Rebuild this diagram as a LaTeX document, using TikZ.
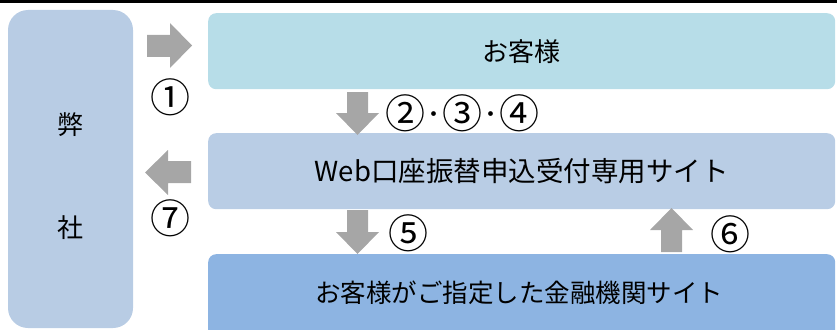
\documentclass[tikz,border=0pt]{standalone}
\usepackage{fontspec}
\setmainfont{Noto Sans CJK JP}
\definecolor{leftc}{HTML}{B8CCE4}
\definecolor{topc}{HTML}{B7DDE8}
\definecolor{midc}{HTML}{B9CDE5}
\definecolor{botc}{HTML}{8DB4E2}
\definecolor{arrc}{HTML}{A6A6A6}
\newcommand{\cnum}[1]{{\fontsize{40}{44}\selectfont #1}}
\newcommand{\mdot}{\raisebox{7.5pt}{\fontsize{17}{20}\selectfont\bfseries ・}}
\begin{document}
\begin{tikzpicture}[x=1pt,y=-1pt,
  box/.style={rounded corners=8pt, minimum width=627pt, minimum height=76pt, inner sep=0pt, anchor=north west, font=\fontsize{27.5}{30}\selectfont},
  lbl/.style={font=\fontsize{26}{30}\selectfont, inner sep=0pt},
  blk/.style={fill=arrc}]
\useasboundingbox (0,0) rectangle (837,329);
\clip (0,0) rectangle (837,329);
\fill[black] (0,0) rectangle (837,3);
% left box
\fill[leftc, rounded corners=20pt] (8,10) rectangle (133,328);
\node[lbl] (hei) at (70.5,125) {弊};
\node[lbl] (sha) at (70.5,228) {社};
% right boxes
\node[box, fill=topc, font=\fontsize{26}{30}\selectfont] (kyaku) at (208,13) {お客様};
\node[box, fill=midc] (web) at (208,133) {Web口座振替申込受付専用サイト};
\node[box, fill=botc, minimum height=90pt] (bank) at (208,254) {};
\node[lbl, font=\fontsize{25.5}{30}\selectfont] (banktxt) at (519,293) {お客様がご指定した金融機関サイト};
% block arrows
\fill[blk] (147,35) -- (170,35) -- (170,23) -- (192,45.5) -- (170,68) -- (170,57) -- (147,57) -- cycle;
\fill[blk] (191,161) -- (168,161) -- (168,150) -- (145,172.5) -- (168,195) -- (168,183) -- (191,183) -- cycle;
\fill[blk] (347,92) -- (368,92) -- (368,113) -- (379,113) -- (357.5,135) -- (336,113) -- (347,113) -- cycle;
\fill[blk] (347,210) -- (368,210) -- (368,232) -- (379,232) -- (357.5,254) -- (336,232) -- (347,232) -- cycle;
\fill[blk] (661,252) -- (682,252) -- (682,230) -- (693,230) -- (671.5,208) -- (650,230) -- (661,230) -- cycle;
% labels
\node[lbl] (n1) at (170,97) {\cnum{①}};
\node[lbl] (n7) at (170,218) {\cnum{⑦}};
\node[lbl] (n234) at (462,113) {\cnum{②}\mdot\cnum{③}\mdot\cnum{④}};
\node[lbl] (n5) at (408,233) {\cnum{⑤}};
\node[lbl] (n6) at (730,234) {\cnum{⑥}};
\end{tikzpicture}
\end{document}
